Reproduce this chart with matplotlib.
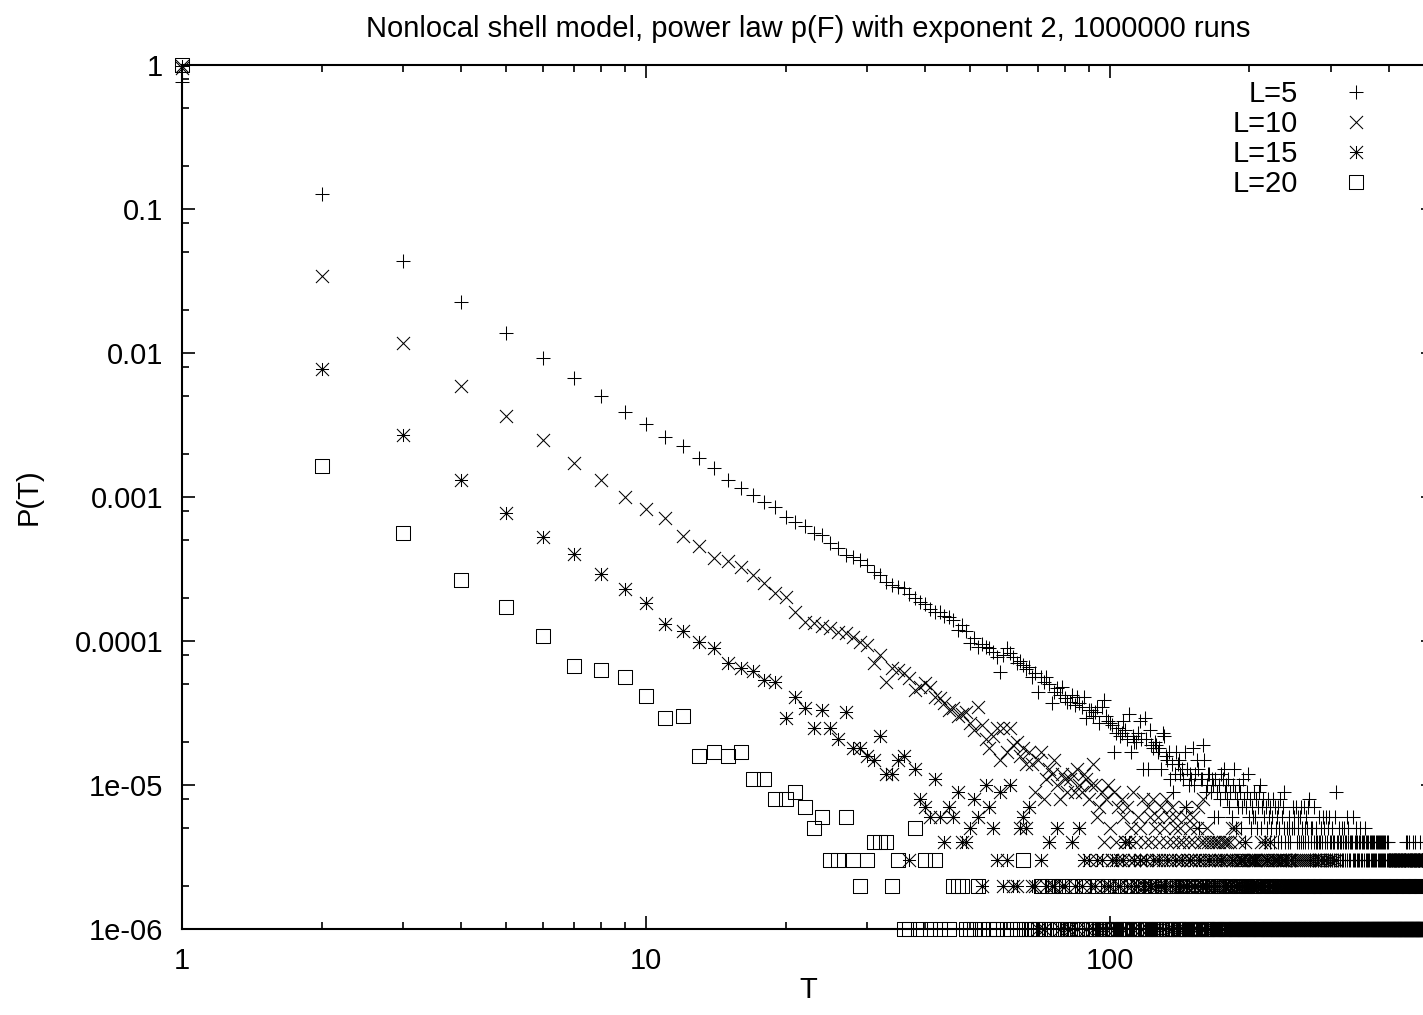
import numpy as np
import matplotlib
matplotlib.use('Agg')
import matplotlib.pyplot as plt
from matplotlib.path import Path
from matplotlib.ticker import FixedLocator, NullFormatter

plt.rcParams['font.family'] = ['Liberation Sans', 'DejaVu Sans']
plt.rcParams['font.size'] = 21

runs = 1.0e6

# ---- L=5 : P(T) for T=1..19, then counts (out of 1e6 runs) for T=20..480
p5_head = [0.76, 0.127, 0.0438, 0.0227, 0.0137, 0.0093, 0.0067, 0.00503, 0.00389, 0.00321,
           0.00261, 0.00226, 0.00187, 0.00159, 0.00131, 0.00116, 0.00103, 0.000923, 0.000853]
c5_tail = [726, 670, 630, 562, 545, 480, 443, 396, 383, 365,
           335, 301, 287, 257, 245, 237, 233, 212, 199, 187,
           180, 168, 159, 160, 150, 146, 140, 119, 129, 118,
           97, 105, 91, 96, 91, 90, 84, 77, 61, 80,
           89, 83, 77, 70, 73, 68, 64, 66, 56, 60,
           44, 56, 52, 56, 50, 37, 44, 47, 42, 48,
           40, 38, 38, 42, 36, 41, 37, 35, 41, 29,
           33, 33, 30, 32, 35, 27, 35, 39, 30, 28,
           27, 26, 17, 23, 25, 22, 23, 28, 24, 21,
           31, 17, 22, 20, 20, 23, 28, 21, 13, 29,
           21, 13, 24, 19, 18, 20, 19, 17, 18, 13,
           23, 22, 16, 15, 17, 11, 14, 9, 12, 17,
           14, 15, 12, 13, 11, 17, 7, 13, 10, 12,
           11, 18, 10, 12, 15, 13, 5, 11, 11, 19,
           15, 9, 10, 12, 12, 9, 11, 10, 6, 11,
           9, 6, 10, 8, 12, 11, 13, 9, 10, 8,
           11, 7, 9, 6, 10, 13, 9, 5, 8, 7,
           10, 9, 5, 7, 11, 8, 4, 7, 9, 12,
           6, 8, 5, 7, 6, 9, 6, 8, 5, 7,
           9, 10, 5, 7, 8, 6, 4, 7, 5, 8,
           6, 4, 7, 5, 6, 8, 4, 7, 5, 6,
           4, 7, 5, 8, 4, 6, 7, 9, 5, 4,
           3, 5, 4, 5, 6, 4, 3, 5, 7, 6,
           5, 3, 7, 4, 6, 5, 4, 6, 7, 4,
           5, 4, 7, 5, 4, 6, 5, 4, 7, 8,
           3, 5, 4, 5, 3, 7, 4, 3, 4, 5,
           4, 3, 4, 6, 4, 3, 5, 4, 6, 3,
           5, 4, 6, 3, 4, 5, 3, 6, 4, 3,
           4, 3, 5, 4, 3, 4, 6, 9, 3, 4,
           4, 3, 5, 4, 3, 4, 3, 5, 4, 3,
           5, 4, 3, 4, 6, 3, 4, 5, 3, 4,
           3, 4, 2, 4, 3, 6, 3, 4, 3, 4,
           5, 3, 4, 3, 4, 3, 5, 4, 3, 4,
           3, 2, 4, 3, 4, 5, 3, 4, 3, 4,
           3, 4, 3, 2, 4, 3, 4, 3, 4, 3,
           4, 3, 4, 3, 4, 3, 4, 2, 3, 4,
           3, 4, 3, 4, 3, 4, 3, 4, 3, 4,
           3, 4, 3, 4, 2, 3, 4, 3, 4, 3,
           3, 3, 3, 2, 3, 3, 3, 2, 3, 3,
           3, 3, 2, 3, 3, 3, 3, 2, 3, 3,
           3, 3, 3, 2, 3, 3, 3, 3, 3, 2,
           3, 3, 3, 3, 3, 4, 3, 3, 4, 3,
           3, 3, 4, 3, 3, 2, 3, 3, 3, 3,
           3, 4, 3, 3, 3, 4, 3, 3, 3, 3,
           2, 3, 3, 3, 3, 3, 4, 3, 3, 2,
           3, 3, 3, 4, 3, 3, 2, 3, 3, 3, 3]

# ---- L=10 : P(T) for T=1..12, then counts for T=13..480
p10_head = [0.95, 0.0343, 0.0118, 0.00593, 0.00367, 0.00249, 0.00173, 0.00131, 0.000995,
            0.000822, 0.000719, 0.000536]
c10_tail = [457, 375, 361, 327, 287, 253, 215, 202, 159, 136,
            134, 128, 123, 115, 113, 107, 98, 94, 70, 80,
            52, 65, 63, 60, 55, 46, 48, 51, 48, 41,
            40, 37, 33, 34, 30, 31, 32, 27, 24, 35,
            26, 21, 18, 22, 25, 15, 25, 17, 25, 19,
            20, 16, 18, 14, 17, 14, 9, 15, 17, 8,
            11, 13, 12, 15, 10, 8, 12, 11, 9, 11,
            12, 9, 13, 10, 9, 12, 11, 8, 10, 14,
            10, 6, 7, 9, 4, 8, 10, 5, 3, 9,
            4, 7, 3, 8, 6, 4, 7, 3, 5, 9,
            3, 4, 6, 5, 3, 8, 4, 3, 7, 6,
            4, 8, 5, 3, 6, 4, 7, 3, 5, 8,
            4, 6, 3, 7, 4, 5, 6, 3, 4, 5,
            3, 4, 7, 6, 3, 4, 5, 3, 6, 4,
            3, 5, 7, 3, 4, 3, 8, 4, 3, 5,
            4, 3, 4, 3, 2, 4, 3, 4, 3, 4,
            3, 2, 4, 3, 4, 3, 4, 3, 2, 4,
            5, 3, 2, 5, 3, 2, 3, 4, 3, 2,
            3, 3, 2, 4, 3, 2, 3, 3, 2, 3,
            2, 3, 3, 2, 3, 2, 3, 2, 3, 4,
            3, 2, 3, 4, 2, 3, 3, 2, 4, 3,
            2, 3, 2, 3, 3, 2, 3, 2, 3, 2,
            3, 2, 3, 3, 2, 3, 2, 3, 2, 2,
            3, 2, 2, 3, 2, 2, 3, 2, 2, 3,
            2, 2, 3, 2, 3, 2, 2, 3, 2, 3,
            2, 2, 3, 2, 2, 3, 2, 3, 2, 2,
            3, 2, 2, 3, 2, 2, 3, 2, 2, 2,
            3, 2, 2, 3, 2, 2, 2, 3, 2, 2,
            3, 2, 2, 2, 3, 2, 2, 3, 2, 2,
            2, 3, 2, 2, 3, 2, 2, 2, 2, 1,
            2, 2, 2, 1, 2, 2, 2, 2, 1, 2,
            2, 2, 2, 2, 1, 2, 2, 2, 2, 2,
            1, 2, 2, 2, 2, 2, 1, 2, 2, 2,
            2, 2, 1, 2, 2, 2, 2, 1, 2, 2,
            2, 2, 2, 1, 2, 2, 2, 2, 2, 1,
            2, 2, 2, 2, 1, 2, 2, 2, 2, 2,
            1, 2, 2, 2, 2, 1, 2, 2, 2, 2,
            2, 1, 2, 2, 2, 2, 1, 2, 2, 2,
            2, 2, 1, 2, 2, 2, 2, 2, 1, 2,
            2, 2, 2, 1, 2, 2, 2, 2, 2, 1,
            2, 2, 2, 2, 1, 2, 2, 2, 2, 2,
            1, 2, 2, 2, 2, 2, 1, 2, 2, 2,
            2, 1, 2, 2, 2, 2, 2, 1, 2, 2,
            2, 2, 1, 2, 2, 2, 2, 2, 1, 2,
            2, 2, 2, 1, 2, 2, 2, 2, 2, 1,
            2, 2, 2, 2, 1, 2, 2, 2, 2, 2,
            1, 2, 2, 2, 2, 1, 2, 2]

# ---- L=15 : P(T) for T=1..19, then counts for T=20..480
p15_head = [0.985, 0.0077, 0.0027, 0.00131, 0.000774, 0.000527, 0.000402, 0.000292, 0.00023,
            0.000184, 0.000131, 0.000117, 9.8e-5, 8.9e-5, 7.0e-5, 6.5e-5, 6.2e-5, 5.4e-5, 5.2e-5]
c15_tail = [29, 41, 34, 25, 33, 25, 21, 32, 18, 18,
            16, 15, 22, 12, 12, 15, 16, 3, 13, 8,
            7, 6, 11, 6, 4, 7, 6, 9, 4, 4,
            5, 8, 6, 2, 10, 7, 5, 3, 9, 2,
            3, 10, 2, 2, 5, 6, 5, 7, 2, 2,
            1, 3, 1, 2, 4, 2, 2, 5, 1, 2,
            2, 1, 1, 4, 2, 1, 5, 2, 3, 1,
            3, 2, 1, 2, 3, 1, 3, 2, 1, 2,
            2, 3, 1, 3, 2, 2, 1, 3, 4, 2,
            4, 2, 1, 3, 2, 2, 3, 1, 2, 2,
            3, 1, 2, 2, 3, 2, 1, 2, 3, 2,
            1, 2, 2, 3, 1, 2, 2, 1, 3, 2,
            2, 1, 2, 3, 2, 1, 2, 2, 1, 3,
            2, 1, 2, 2, 1, 2, 3, 1, 2, 2,
            1, 2, 2, 1, 3, 2, 1, 2, 1, 2,
            2, 1, 2, 1, 3, 2, 1, 2, 2, 1,
            2, 1, 2, 3, 1, 2, 1, 2, 2, 1,
            2, 1, 3, 2, 1, 2, 1, 2, 1, 2,
            1, 2, 2, 1, 2, 1, 3, 2, 1, 2,
            1, 2, 1, 2, 2, 1, 2, 1, 3, 1,
            2, 1, 2, 1, 2, 2, 1, 2, 1, 2,
            1, 2, 1, 2, 1, 3, 1, 2, 1, 2,
            1, 2, 1, 1, 2, 1, 2, 1, 2, 1,
            2, 1, 1, 2, 1, 2, 1, 1, 2, 1,
            2, 1, 2, 1, 1, 2, 1, 2, 1, 1,
            2, 1, 1, 2, 1, 2, 1, 1, 2, 1,
            1, 2, 1, 1, 2, 1, 1, 2, 1, 1,
            2, 1, 1, 2, 1, 1, 1, 2, 1, 1,
            2, 1, 1, 1, 2, 1, 1, 2, 1, 1,
            1, 2, 1, 1, 1, 2, 1, 1, 2, 1,
            1, 1, 2, 1, 1, 1, 2, 1, 1, 1,
            2, 1, 1, 1, 2, 1, 1, 1, 1, 2,
            1, 1, 1, 2, 1, 1, 1, 2, 1, 1,
            1, 2, 1, 1, 1, 1, 2, 1, 1, 1,
            2, 1, 1, 1, 1, 2, 1, 1, 1, 2,
            1, 1, 1, 1, 2, 1, 1, 1, 2, 1,
            1, 1, 2, 1, 1, 1, 1, 2, 1, 1,
            1, 2, 1, 1, 1, 1, 2, 1, 1, 1,
            1, 1, 2, 1, 1, 1, 1, 1, 2, 1,
            1, 1, 1, 2, 1, 1, 1, 1, 1, 2,
            1, 1, 1, 1, 2, 1, 1, 1, 1, 1,
            2, 1, 1, 1, 1, 1, 2, 1, 1, 1,
            1, 1, 2, 1, 1, 1, 1, 1, 1, 2,
            1, 1, 1, 1, 1, 2, 1, 1, 1, 1,
            1, 2, 1, 1, 1, 1, 1, 1, 2, 1,
            1, 1, 1, 1, 2, 1, 1, 1, 1, 1, 2]

# ---- L=20 : P(T) for T=1..12, then counts for T=13..480 (0 = no event)
p20_head = [0.996, 0.00164, 0.000562, 0.000265, 0.000172, 0.000108, 6.7e-5, 6.3e-5, 5.6e-5,
            4.15e-5, 2.9e-5, 3.0e-5]
c20_tail = [16, 17, 16, 17, 11, 11, 8, 8, 9, 7,
            5, 6, 3, 3, 6, 3, 2, 3, 4, 4,
            4, 2, 3, 1, 1, 5, 1, 3, 1, 3,
            1, 0, 1, 2, 2, 2, 1, 1, 1, 2,
            1, 0, 1, 1, 1, 0, 1, 0, 1, 0,
            1, 1, 3, 1, 1, 1, 1, 1, 2, 1,
            1, 1, 2, 1, 1, 1, 2, 1, 1, 1,
            2, 1, 1, 1, 1, 2, 1, 1, 1, 1,
            1, 2, 1, 1, 1, 1, 2, 1, 1, 1,
            1, 1, 2, 1, 1, 1, 1, 1, 2, 1,
            1, 1, 1, 1, 2, 1, 1, 1, 1, 1,
            2, 1, 1, 1, 1, 1, 1, 2, 1, 1,
            1, 1, 1, 2, 1, 1, 1, 1, 1, 1,
            2, 1, 1, 1, 1, 1, 1, 1, 2, 1,
            1, 1, 1, 1, 1, 2, 1, 1, 1, 1,
            1, 1, 1, 2, 1, 1, 1, 1, 1, 1,
            1, 2, 1, 1, 1, 1, 1, 1, 1, 2,
            1, 1, 1, 1, 1, 1, 1, 2, 1, 1,
            1, 1, 1, 1, 2, 1, 1, 1, 1, 1,
            1, 1, 2, 1, 1, 1, 1, 1, 1, 1,
            1, 2, 1, 1, 1, 1, 1, 1, 1, 1,
            2, 1, 1, 1, 1, 1, 1, 1, 1, 2,
            1, 1, 1, 1, 1, 1, 1, 1, 2, 1,
            1, 1, 1, 1, 1, 1, 2, 1, 1, 1,
            1, 1, 1, 1, 1, 2, 1, 1, 1, 1,
            1, 1, 1, 1, 2, 1, 1, 1, 1, 1,
            1, 1, 2, 1, 1, 1, 1, 1, 1, 1,
            1, 2, 1, 1, 1, 1, 1, 1, 1, 1,
            2, 1, 1, 1, 1, 1, 1, 1, 1, 1,
            1, 2, 1, 1, 1, 1, 1, 1, 1, 1,
            1, 1, 1, 2, 1, 1, 1, 1, 1, 1,
            1, 1, 1, 1, 1, 2, 1, 1, 1, 1,
            1, 1, 1, 1, 1, 1, 1, 2, 1, 1,
            1, 1, 1, 1, 1, 1, 1, 1, 1, 2,
            1, 1, 1, 1, 1, 1, 1, 1, 1, 1,
            2, 1, 1, 1, 1, 1, 1, 1, 1, 1,
            1, 1, 2, 1, 1, 1, 1, 1, 1, 1,
            1, 1, 1, 1, 1, 2, 1, 1, 1, 1,
            1, 1, 1, 1, 1, 1, 1, 1, 2, 1,
            1, 1, 1, 1, 1, 1, 1, 1, 1, 1,
            1, 2, 1, 1, 1, 1, 1, 1, 1, 1,
            1, 1, 1, 1, 1, 2, 1, 1, 1, 1,
            1, 1, 1, 1, 1, 1, 1, 1, 1, 2,
            1, 1, 1, 1, 1, 1, 1, 1, 1, 1,
            1, 1, 2, 1, 1, 1, 1, 1, 1, 1,
            1, 1, 1, 1, 1, 1, 2, 1, 1, 1,
            1, 1, 1, 1, 1, 1, 1, 1]

labels = ['L=5', 'L=10', 'L=15', 'L=20']
title = 'Nonlocal shell model, power law p(F) with exponent 2, 1000000 runs'
xticks = [1, 10, 100]
xticklabels = ['1', '10', '100']
yticks = [1e-6, 1e-5, 1e-4, 1e-3, 1e-2, 1e-1, 1]
yticklabels = ['1e-06', '1e-05', '0.0001', '0.001', '0.01', '0.1', '1']


def series(head, tail):
    p = np.concatenate([np.array(head), np.array(tail) / runs])
    t = np.arange(1, len(p) + 1)
    ok = p > 0
    return t[ok], p[ok]


# gnuplot-like point types
M, L_ = Path.MOVETO, Path.LINETO
plus = Path([(-1, 0), (1, 0), (0, -1), (0, 1)], [M, L_, M, L_])
cross = Path([(-1, -1), (1, 1), (-1, 1), (1, -1)], [M, L_, M, L_])
star = Path([(-1, 0), (1, 0), (0, -1), (0, 1), (-1, -1), (1, 1), (-1, 1), (1, -1)],
            [M, L_, M, L_, M, L_, M, L_])
d = 0.07
box = Path([(-1, -1), (1, -1), (1, 1), (-1, 1), (-1, -1),
            (-d, -d), (d, -d), (d, d), (-d, d), (-d, -d)],
           [M, L_, L_, L_, L_, M, L_, L_, L_, L_])

fig = plt.figure(figsize=(14.23, 10.15), dpi=100)
ax = fig.add_axes([182 / 1423, 86 / 1015, 1252 / 1423, 864 / 1015])

data = [(p5_head, c5_tail, plus, 9.4), (p10_head, c10_tail, cross, 9.4),
        (p15_head, c15_tail, star, 9.4), (p20_head, c20_tail, box, 10.0)]
for (head, tail, mk, ms), lab in zip(data, labels):
    t, p = series(head, tail)
    ax.plot(t, p, linestyle='none', marker=mk, markersize=ms, markeredgewidth=0.75,
            markeredgecolor='black', markerfacecolor='none', label=lab, clip_on=False)

ax.set_xscale('log')
ax.set_yscale('log')
ax.set_xlim(1, 500)
ax.set_ylim(1e-6, 1)

ax.xaxis.set_major_locator(FixedLocator(xticks))
ax.set_xticklabels(xticklabels)
xminor = [m * 10 ** k for k in range(3) for m in range(2, 10)]
ax.xaxis.set_minor_locator(FixedLocator(xminor))
ax.xaxis.set_minor_formatter(NullFormatter())
ax.yaxis.set_major_locator(FixedLocator(yticks))
ax.set_yticklabels(yticklabels)
yminor = [m * 10.0 ** k for k in range(-6, 0) for m in (2, 5, 8)]
ax.yaxis.set_minor_locator(FixedLocator(yminor))
ax.yaxis.set_minor_formatter(NullFormatter())

ax.tick_params(which='both', direction='in', top=True, right=True, width=1.2, labelsize=21)
ax.tick_params(which='major', length=9.4)
ax.tick_params(which='minor', length=5)
ax.tick_params(axis='y', pad=13.5)
ax.tick_params(axis='x', pad=13)
for s in ax.spines.values():
    s.set_linewidth(1.5)

ax.set_xlabel('T', labelpad=1)
ax.set_ylabel('P(T)', labelpad=23)
ax.set_title(title, fontsize=21, pad=20)

ax.legend(loc='upper right', bbox_to_anchor=(1371 / 1423, 1 - 80 / 1015),
          bbox_transform=fig.transFigure, markerfirst=False, frameon=False,
          handlelength=1.0, handletextpad=1.5, labelspacing=0.07, borderpad=0,
          borderaxespad=0, numpoints=1, fontsize=21)

fig.savefig('out.png', dpi=100)
